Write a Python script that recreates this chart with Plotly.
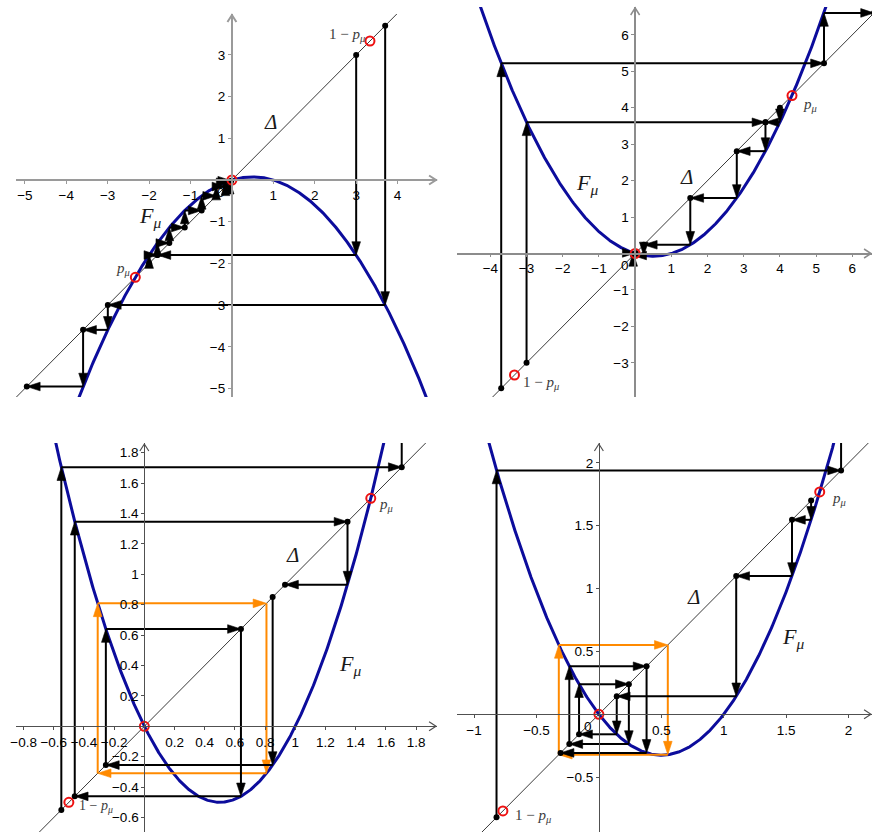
import numpy as np
import plotly.graph_objects as go

# ---------------- data ----------------
# parameter mu of F_mu(x) = mu * x * (1 - x) in each panel
MU_TL, MU_TR, MU_BL, MU_BR = 0.3, -0.3, -2.0, -1.3

# cobweb orbits: successive iterates x0, x1 = F(x0), x2, ...
TL_ORBITS = [
    [3.7, -2.997, -3.594, -4.953],
    [3.0, -1.8, -1.512, -1.139, -0.731, -0.380, -0.157, -0.055, -0.017],
    [-2.0, -1.8],
]
TR_ORBITS = [
    [-3.7, 5.217, 6.6],
    [-3.0, 3.6, 2.808, 1.523, 0.239, -0.055, 0.017],
    [4.0, 3.6],
]
BL_ORBITS = [
    [-0.55, 1.705, 2.404],
    [0.85, -0.255, 0.640, -0.461, 1.346, 0.932],
]
BR_ORBITS = [
    [-0.82, 1.940, 2.371],
    [1.7, 1.547, 1.100, 0.143, -0.159, 0.240, -0.237, 0.382, -0.307],
]
# 2-cycles {q1, q2} drawn in orange
BL_CYCLE = [-0.309, 0.809, -0.309]
BR_CYCLE = [-0.321, 0.552, -0.321]

# fixed points 0, p_mu and the point 1 - p_mu
TL_MARKED = [0.0, -2.333, 3.333]
TR_MARKED = [0.0, 4.333, -3.333]
BL_MARKED = [0.0, 1.5, -0.5]
BR_MARKED = [0.0, 1.769, -0.769]

# tick values
TL_XTICKS = [-5, -4, -3, -2, -1, 1, 2, 3, 4]
TL_YTICKS = [-5, -4, -3, -2, -1, 1, 2, 3]
TR_XTICKS = [-4, -3, -2, -1, 1, 2, 3, 4, 5, 6]
TR_YTICKS = [-3, -2, -1, 1, 2, 3, 4, 5, 6]
BL_XTICKS = [-0.8, -0.6, -0.4, -0.2, 0.2, 0.4, 0.6, 0.8, 1, 1.2, 1.4, 1.6, 1.8]
BL_YTICKS = [-0.6, -0.4, -0.2, 0.2, 0.4, 0.6, 0.8, 1, 1.2, 1.4, 1.6, 1.8]
BR_XTICKS = [-1, -0.5, 0.5, 1, 1.5, 2]
BR_YTICKS = [-0.5, 0.5, 1, 1.5, 2]

# ---------------- layout of the four graphics views ----------------
W, H = 872, 832
SANS = "Liberation Sans, Arial, sans-serif"
SERIF = "Liberation Serif, Times New Roman, serif"
BLUE = "#0c0c9c"
ORANGE = "#ff8a00"
RED = "#ee1111"
TICK_SIZE = 13.5

F_TXT = "<i>F</i><sub><i>μ</i></sub>"
P_TXT = "<i>p</i><sub><i>μ</i></sub>"
Q_TXT = "1 − <i>p</i><sub><i>μ</i></sub>"
D_TXT = "<i>Δ</i>"

panels = [
    dict(mu=MU_TL, orbits=TL_ORBITS, cycle=None, marked=TL_MARKED,
         xt=TL_XTICKS, yt=TL_YTICKS, zero=True,
         box=(10, 434, 14, 397), origin=(227.5, 180.0), scale=41.7,
         axc="#9a9a9a", axw=2.0,
         labels=[(D_TXT, 0.94, 1.40, 21, "center"),
                 (F_TXT, -2.30, -0.88, 22, "left"),
                 (P_TXT, -2.62, -2.14, 15, "center"),
                 (Q_TXT, 3.26, 3.48, 15, "right")]),
    dict(mu=MU_TR, orbits=TR_ORBITS, cycle=None, marked=TR_MARKED,
         xt=TR_XTICKS, yt=TR_YTICKS, zero=True,
         box=(454, 872, 7, 397), origin=(633.5, 253.5), scale=36.45,
         axc="#8c8c8c", axw=1.5,
         labels=[(D_TXT, 1.42, 2.10, 21, "center"),
                 (F_TXT, -1.70, 1.92, 22, "left"),
                 (P_TXT, 4.58, 4.08, 15, "left"),
                 (Q_TXT, -3.15, -3.56, 15, "left")]),
    dict(mu=MU_BL, orbits=BL_ORBITS, cycle=BL_CYCLE, marked=BL_MARKED,
         xt=BL_XTICKS, yt=BL_YTICKS, zero=False,
         box=(10, 434, 443, 832), origin=(139.3, 726.3), scale=152.0,
         axc="#505050", axw=1.0,
         labels=[(D_TXT, 0.98, 1.13, 21, "center"),
                 (F_TXT, 1.275, 0.405, 22, "left"),
                 (P_TXT, 1.544, 1.455, 15, "left"),
                 (Q_TXT, -0.445, -0.525, 14, "left")]),
    dict(mu=MU_BR, orbits=BR_ORBITS, cycle=BR_CYCLE, marked=BR_MARKED,
         xt=BR_XTICKS, yt=BR_YTICKS, zero=True,
         box=(454, 872, 443, 832), origin=(597.0, 714.3), scale=125.7,
         axc="#505050", axw=1.0,
         labels=[(D_TXT, 0.756, 0.936, 21, "center"),
                 (F_TXT, 1.45, 0.605, 22, "left"),
                 (P_TXT, 1.848, 1.715, 15, "left"),
                 (Q_TXT, -0.692, -0.81, 15, "left")]),
]


def F(mu, x):
    return mu * x * (1.0 - x)


def cobweb(orbit):
    """Staircase (x0,x0) -> (x0,x1) -> (x1,x1) -> (x1,x2) -> ..."""
    xs, ys = [orbit[0]], [orbit[0]]
    for a, b in zip(orbit[:-1], orbit[1:]):
        xs += [a, b]
        ys += [b, b]
    return xs, ys


def tick_text(vals):
    return [f"{v:g}".replace("-", "−") for v in vals]


def px_to_paper(px, py):
    return px / W, 1 - py / H


def chevron(tip, direction, length=7.0, half=4.5):
    """Open arrowhead path (paper coordinates) at a pixel tip."""
    tx, ty = tip
    if direction == "right":
        pts = [(tx - length, ty - half), (tx, ty), (tx - length, ty + half)]
    else:
        pts = [(tx - half, ty + length), (tx, ty), (tx + half, ty + length)]
    pp = [px_to_paper(*p) for p in pts]
    return "M{},{} L{},{} L{},{}".format(pp[0][0], pp[0][1], pp[1][0], pp[1][1],
                                         pp[2][0], pp[2][1])


def arrow_path_trace(vals, color, xa, ya):
    """Cobweb staircase with a filled arrowhead at the end of every segment."""
    cx, cy = cobweb(vals)
    n = len(cx)
    return go.Scatter(
        x=cx, y=cy, mode="lines+markers", xaxis=xa, yaxis=ya,
        line=dict(color=color, width=2),
        marker=dict(symbol=["circle"] + ["arrow"] * (n - 1),
                    size=[0] + [14] * (n - 1), color=color, opacity=1,
                    angleref="previous", line=dict(width=0.6, color=color)),
        hoverinfo="skip")


fig = go.Figure()
annotations = []
shapes = []
layout = dict(
    width=W, height=H, margin=dict(l=0, r=0, t=0, b=0),
    paper_bgcolor="white", plot_bgcolor="white", showlegend=False,
)

for k, P in enumerate(panels, start=1):
    L, R, T, B = P["box"]
    ox, oy = P["origin"]
    s = P["scale"]
    xr = [(L - ox) / s, (R - ox) / s]
    yr = [(oy - B) / s, (oy - T) / s]
    xa = "x" if k == 1 else f"x{k}"
    ya = "y" if k == 1 else f"y{k}"
    axis_common = dict(
        showgrid=False, zeroline=False, showline=True,
        linecolor=P["axc"], linewidth=P["axw"],
        ticks="outside", ticklen=3, tickcolor=P["axc"], tickwidth=1,
        tickfont=dict(family=SANS, size=TICK_SIZE, color="black"),
        anchor="free", fixedrange=True,
    )
    layout["xaxis" if k == 1 else f"xaxis{k}"] = dict(
        axis_common, domain=[L / W, R / W], range=xr,
        position=1 - oy / H, tickmode="array",
        tickvals=P["xt"], ticktext=tick_text(P["xt"]),
    )
    layout["yaxis" if k == 1 else f"yaxis{k}"] = dict(
        axis_common, domain=[1 - B / H, 1 - T / H], range=yr,
        position=ox / W, tickmode="array",
        tickvals=P["yt"], ticktext=tick_text(P["yt"]),
    )

    # open arrowheads at the ends of both axes
    for tip, d in (((R - 1, oy), "right"), ((ox, T + 1), "up")):
        shapes.append(dict(type="path", xref="paper", yref="paper",
                           path=chevron(tip, d),
                           line=dict(color=P["axc"], width=max(P["axw"], 1.2))))
    if P["zero"]:
        annotations.append(dict(xref=xa, yref=ya, x=0, y=0, text="0",
                                showarrow=False, xshift=-10.5, yshift=-12,
                                font=dict(family=SANS, size=TICK_SIZE, color="black")))

    # diagonal Delta
    fig.add_trace(go.Scatter(x=xr, y=xr, mode="lines", xaxis=xa, yaxis=ya,
                             line=dict(color="#3a3a3a", width=1), hoverinfo="skip"))
    # graph of F_mu
    xs = np.linspace(xr[0], xr[1], 600)
    fig.add_trace(go.Scatter(x=xs, y=F(P["mu"], xs), mode="lines", xaxis=xa, yaxis=ya,
                             line=dict(color=BLUE, width=3), hoverinfo="skip"))

    # orange 2-cycle
    if P["cycle"] is not None:
        fig.add_trace(arrow_path_trace(P["cycle"], ORANGE, xa, ya))

    # black cobweb orbits and their points on the diagonal
    for orb in P["orbits"]:
        fig.add_trace(arrow_path_trace(orb, "black", xa, ya))
        fig.add_trace(go.Scatter(
            x=orb, y=orb, mode="markers", xaxis=xa, yaxis=ya,
            marker=dict(symbol="circle", size=6, color="black"),
            hoverinfo="skip"))

    # fixed points and 1 - p_mu
    fig.add_trace(go.Scatter(
        x=P["marked"], y=P["marked"], mode="markers", xaxis=xa, yaxis=ya,
        marker=dict(symbol="circle-open", size=9, color=RED, line=dict(width=2)),
        hoverinfo="skip"))

    for txt, tx, ty, size, anchor in P["labels"]:
        color = "#1a1a1a" if size >= 18 else "#3c3c3c"
        annotations.append(dict(xref=xa, yref=ya, x=tx, y=ty, text=txt,
                                showarrow=False, xanchor=anchor, yanchor="middle",
                                font=dict(family=SERIF, size=size, color=color)))

layout["annotations"] = annotations
layout["shapes"] = shapes
fig.update_layout(**layout)
fig.write_html("out.html")
